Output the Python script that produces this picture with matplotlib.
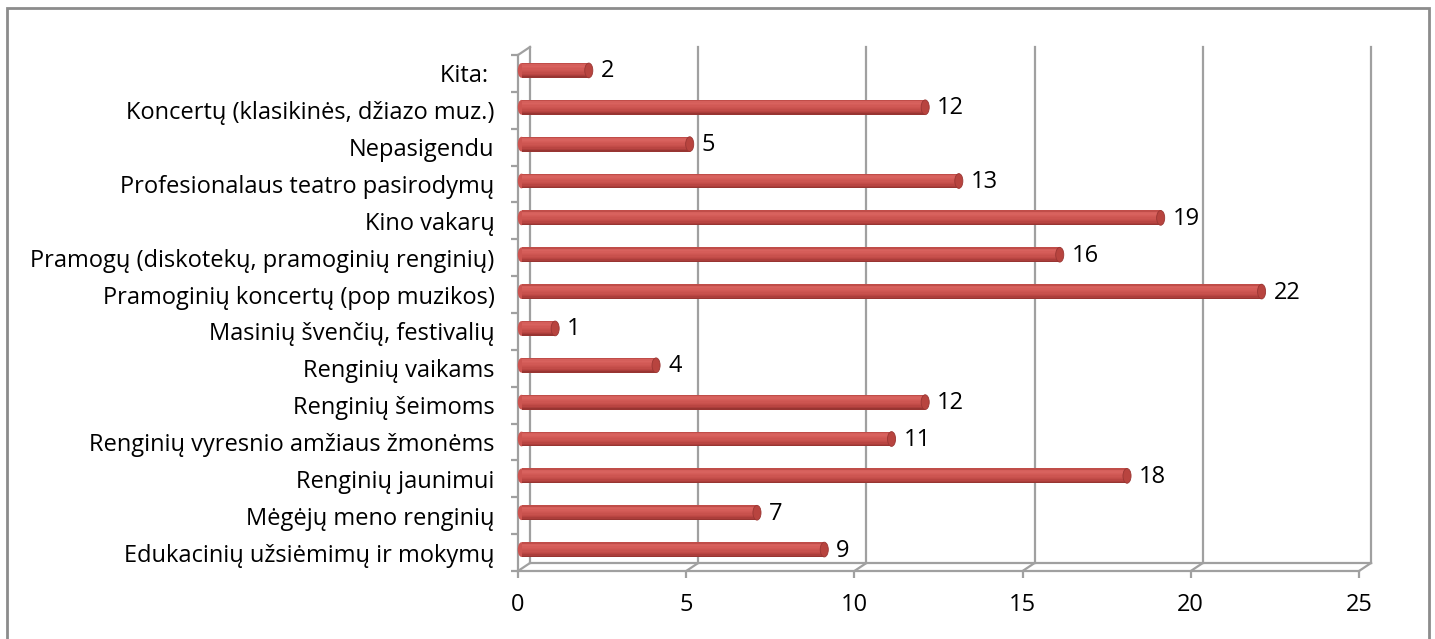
import numpy as np
import matplotlib.pyplot as plt
import matplotlib.transforms as mtransforms
from matplotlib.patches import Ellipse, Rectangle

plt.rcParams['font.family'] = ['Open Sans', 'DejaVu Sans']

# kategorijos iš apačios į viršų
categories = [
    'Edukacinių užsiėmimų ir mokymų',
    'Mėgėjų meno renginių',
    'Renginių jaunimui',
    'Renginių vyresnio amžiaus žmonėms',
    'Renginių šeimoms',
    'Renginių vaikams',
    'Masinių švenčių, festivalių',
    'Pramoginių koncertų (pop muzikos)',
    'Pramogų (diskotekų, pramoginių renginių)',
    'Kino vakarų',
    'Profesionalaus teatro pasirodymų',
    'Nepasigendu',
    'Koncertų (klasikinės, džiazo muz.)',
    'Kita: ',
]
values = [9, 7, 18, 11, 12, 4, 1, 22, 16, 19, 13, 5, 12, 2]
xticks = [0, 5, 10, 15, 20, 25]

DPI = 100
FS = 17
fig = plt.figure(figsize=(14.35, 6.39), dpi=DPI)
ax = fig.add_axes([518 / 1435, (639 - 571) / 639, 841 / 1435, 516 / 639])
ax.set_xlim(0, 25)
ax.set_ylim(-0.5, len(categories) - 0.5)

grid_c = '#a0a0a0'
back = ax.transData + mtransforms.ScaledTranslation(12 / DPI, 8 / DPI, fig.dpi_scale_trans)
mid = ax.transData + mtransforms.ScaledTranslation(3.5 / DPI, 3 / DPI, fig.dpi_scale_trans)

y0, y1 = -0.5, len(categories) - 0.5
# galinė plokštuma
for t in xticks:
    ax.plot([t, t], [y0, y1], color=grid_c, lw=1.6, transform=back, clip_on=False, zorder=1)
    # įstrižainė nuo priekio iki galo
    p_front = ax.transData.transform((t, y0))
    p_back = back.transform((t, y0))
    ax.plot([p_front[0], p_back[0]], [p_front[1], p_back[1]], color=grid_c, lw=1.6,
            transform=None, clip_on=False, zorder=1)
ax.plot([0, 25], [y0, y0], color=grid_c, lw=1.6, transform=back, clip_on=False, zorder=1)
pf = ax.transData.transform((0, y1))
pb = back.transform((0, y1))
ax.plot([pf[0], pb[0]], [pf[1], pb[1]], color=grid_c, lw=1.6, transform=None, clip_on=False)

for s in ['top', 'right']:
    ax.spines[s].set_visible(False)
for s in ['left', 'bottom']:
    ax.spines[s].set_color(grid_c)
    ax.spines[s].set_linewidth(1.6)

ax.set_xticks(xticks)
ax.set_xticklabels([str(t) for t in xticks], fontsize=FS)
ax.tick_params(axis='x', length=5, width=1.6, color=grid_c, pad=11)
ax.set_yticks(range(len(categories)))
ax.set_yticklabels(categories, fontsize=FS)
ax.set_yticks(np.arange(-0.5, len(categories), 1), minor=True)
ax.tick_params(axis='y', which='major', length=0, pad=17)
ax.tick_params(axis='y', which='minor', length=5, width=1.6, color=grid_c)

# cilindriniai stulpeliai
h = 0.40
shade = ['#c04d49', '#d55f5b', '#d8625e', '#d55d59', '#d15955', '#cd5551',
         '#c8514d', '#c24c48', '#b94542', '#ab3e3b', '#983532']
n = len(shade)
for i, v in enumerate(values):
    ax.add_patch(Ellipse((0, i), 0.22, h, facecolor=shade[5], edgecolor='none',
                         transform=mid, zorder=3, clip_on=False))
    for k, c in enumerate(shade):
        ax.add_patch(Rectangle((0, i + h / 2 - (k + 1) * h / n), v, h / n, facecolor=c,
                               edgecolor='none', transform=mid, zorder=3, clip_on=False))
    ax.add_patch(Ellipse((v, i), 0.24, h, facecolor='#b8443f', edgecolor='#9a3633',
                         lw=0.6, transform=mid, zorder=4, clip_on=False))
    ax.annotate(str(v), xy=(v, i), xycoords=mid, xytext=(12, -1), textcoords='offset pixels',
                va='center', ha='left', fontsize=FS, zorder=5)

# rėmelis
fig.add_artist(Rectangle((7 / 1435, -0.05), 1422 / 1435, 1 - 8 / 639 + 0.05,
                         transform=fig.transFigure, fill=False, edgecolor='#8c8c8c', lw=2))

fig.savefig('out.png', dpi=DPI)
